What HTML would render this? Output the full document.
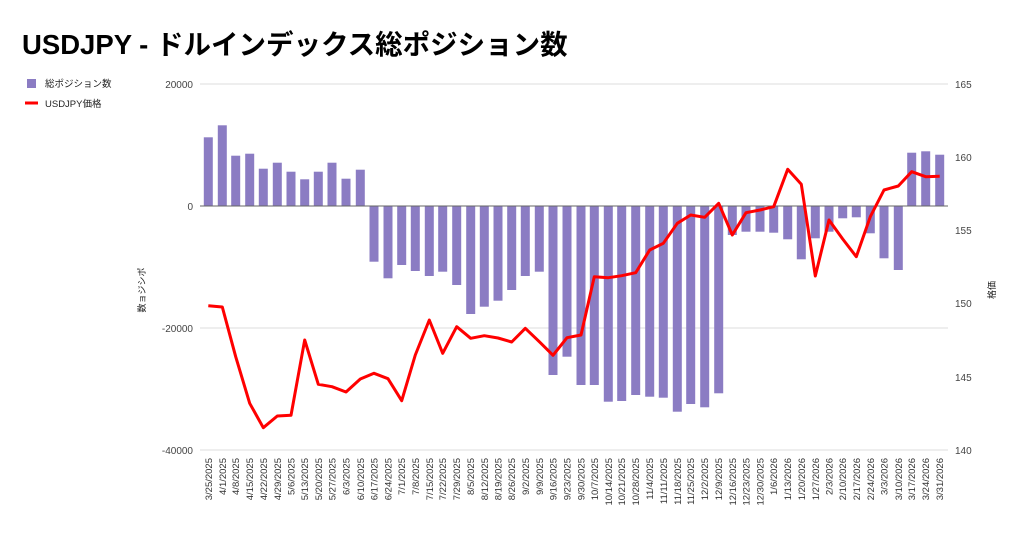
<!DOCTYPE html>
<html><head><meta charset="utf-8"><style>
body{margin:0;background:#fff;width:1024px;height:534px;overflow:hidden}
svg{display:block;font-family:"Liberation Sans","Noto Sans CJK JP",sans-serif}
</style></head><body>
<svg width="1024" height="534" viewBox="0 0 1024 534">
<text x="22" y="54" font-size="27.5" font-weight="bold" fill="#000">USDJPY - ドルインデックス総ポジション数</text>
<rect x="27" y="79" width="9" height="9" fill="#8b7cc3"/>
<text x="45" y="87" font-size="9.5" fill="#222">総ポジション数</text>
<line x1="25" y1="103" x2="38" y2="103" stroke="#f00" stroke-width="3"/>
<text x="45" y="107" font-size="9.5" fill="#222">USDJPY価格</text>
<g stroke="#ddd" stroke-width="1">
<line x1="200" y1="84" x2="948" y2="84"/><line x1="200" y1="328" x2="948" y2="328"/><line x1="200" y1="450" x2="948" y2="450"/>
</g>
<g font-size="10" fill="#444" text-anchor="end">
<text x="193" y="88">20000</text><text x="193" y="210">0</text><text x="193" y="332">-20000</text><text x="193" y="454">-40000</text>
</g>
<g font-size="10" fill="#444" text-anchor="start">
<text x="955" y="88">165</text><text x="955" y="161">160</text><text x="955" y="234">155</text><text x="955" y="307">150</text><text x="955" y="381">145</text><text x="955" y="454">140</text>
</g>
<text transform="translate(145,290) rotate(-90)" font-size="9" fill="#222" text-anchor="middle">数ョジシポ</text>
<text transform="translate(995,290) rotate(-90)" font-size="9" fill="#222" text-anchor="middle">格価</text>
<g fill="#8b7cc3">
<rect x="203.8" y="137.3" width="9" height="68.7"/><rect x="217.8" y="125.3" width="9" height="80.7"/><rect x="231.2" y="155.7" width="9" height="50.3"/><rect x="245.2" y="153.7" width="9" height="52.3"/><rect x="258.8" y="168.7" width="9" height="37.3"/><rect x="272.8" y="162.7" width="9" height="43.3"/><rect x="286.5" y="171.7" width="9" height="34.3"/><rect x="300.2" y="179.3" width="9" height="26.7"/><rect x="313.8" y="171.7" width="9" height="34.3"/><rect x="327.5" y="162.7" width="9" height="43.3"/><rect x="341.5" y="178.7" width="9" height="27.3"/><rect x="355.8" y="169.7" width="9" height="36.3"/>
<rect x="369.5" y="206" width="9" height="55.7"/><rect x="383.5" y="206" width="9" height="72.3"/><rect x="397.2" y="206" width="9" height="59"/><rect x="410.8" y="206" width="9" height="65"/><rect x="424.8" y="206" width="9" height="70"/><rect x="438.2" y="206" width="9" height="65.7"/><rect x="452.2" y="206" width="9" height="79"/><rect x="466.2" y="206" width="9" height="108"/><rect x="479.8" y="206" width="9" height="100.7"/><rect x="493.5" y="206" width="9" height="94.7"/><rect x="507.2" y="206" width="9" height="84"/><rect x="520.8" y="206" width="9" height="70"/><rect x="534.8" y="206" width="9" height="65.7"/><rect x="548.5" y="206" width="9" height="169"/><rect x="562.5" y="206" width="9" height="150.7"/>
<rect x="576.5" y="206" width="9" height="179"/><rect x="589.8" y="206" width="9" height="179"/><rect x="603.8" y="206" width="9" height="195.7"/><rect x="617.2" y="206" width="9" height="195"/><rect x="631.2" y="206" width="9" height="189"/><rect x="645.2" y="206" width="9" height="190.7"/><rect x="658.8" y="206" width="9" height="191.7"/><rect x="672.8" y="206" width="9" height="205.7"/><rect x="686.2" y="206" width="9" height="198"/><rect x="700.2" y="206" width="9" height="201.3"/><rect x="714.2" y="206" width="9" height="187.3"/>
<rect x="727.8" y="206" width="9" height="29"/><rect x="741.5" y="206" width="9" height="25.7"/><rect x="755.5" y="206" width="9" height="25.7"/><rect x="769.2" y="206" width="9" height="26.7"/><rect x="783.2" y="206" width="9" height="33.3"/><rect x="796.8" y="206" width="9" height="53.3"/><rect x="810.8" y="206" width="9" height="32.3"/><rect x="824.5" y="206" width="9" height="25.7"/><rect x="838.2" y="206" width="9" height="12.3"/><rect x="851.8" y="206" width="9" height="11.3"/><rect x="865.8" y="206" width="9" height="27.3"/><rect x="879.5" y="206" width="9" height="52.3"/><rect x="893.8" y="206" width="9" height="64"/>
<rect x="907.2" y="152.7" width="9" height="53.3"/><rect x="921.2" y="151.3" width="9" height="54.7"/><rect x="935.2" y="154.7" width="9" height="51.3"/>
</g>
<line x1="200" y1="206" x2="948" y2="206" stroke="#666" stroke-width="1"/>
<polyline fill="none" stroke="#f00" stroke-width="3" stroke-linejoin="round" points="208.3,305.7 222.3,307 235.7,356.7 249.7,403.3 263.3,427.7 277.3,416 291,415.3 304.7,340 318.3,384.3 332,386.7 346,392 360.3,379 374,373.3 388,378.7 401.7,400.7 415.3,355 429.3,320 442.7,353.3 456.7,326.7 470.7,338.3 484.3,335.7 498,338 511.7,342 525.3,328.3 539.3,341.7 553,355.3 567,337.7 581,335 594.3,276.7 608.3,277.7 621.7,275.7 635.7,272.7 649.7,250 663.3,243.3 677.3,223.3 690.7,215 704.7,217.3 718.7,203.3 732.3,235 746,212.7 760,210 773.7,206.7 787.7,169.3 801.3,184.3 815.3,276 829,220 842.7,239 856.3,256.7 870.3,216.7 884,190 898.3,186 911.7,171.7 925.7,176.7 939.7,176.3"/>
<g font-size="9.5" fill="#333" text-anchor="end">
<text transform="translate(211.8,458) rotate(-90)">3/25/2025</text><text transform="translate(225.8,458) rotate(-90)">4/1/2025</text><text transform="translate(239.2,458) rotate(-90)">4/8/2025</text><text transform="translate(253.2,458) rotate(-90)">4/15/2025</text><text transform="translate(266.8,458) rotate(-90)">4/22/2025</text><text transform="translate(280.8,458) rotate(-90)">4/29/2025</text><text transform="translate(294.5,458) rotate(-90)">5/6/2025</text><text transform="translate(308.2,458) rotate(-90)">5/13/2025</text><text transform="translate(321.8,458) rotate(-90)">5/20/2025</text><text transform="translate(335.5,458) rotate(-90)">5/27/2025</text><text transform="translate(349.5,458) rotate(-90)">6/3/2025</text><text transform="translate(363.8,458) rotate(-90)">6/10/2025</text><text transform="translate(377.5,458) rotate(-90)">6/17/2025</text><text transform="translate(391.5,458) rotate(-90)">6/24/2025</text><text transform="translate(405.2,458) rotate(-90)">7/1/2025</text><text transform="translate(418.8,458) rotate(-90)">7/8/2025</text><text transform="translate(432.8,458) rotate(-90)">7/15/2025</text><text transform="translate(446.2,458) rotate(-90)">7/22/2025</text><text transform="translate(460.2,458) rotate(-90)">7/29/2025</text><text transform="translate(474.2,458) rotate(-90)">8/5/2025</text><text transform="translate(487.8,458) rotate(-90)">8/12/2025</text><text transform="translate(501.5,458) rotate(-90)">8/19/2025</text><text transform="translate(515.2,458) rotate(-90)">8/26/2025</text><text transform="translate(528.8,458) rotate(-90)">9/2/2025</text><text transform="translate(542.8,458) rotate(-90)">9/9/2025</text><text transform="translate(556.5,458) rotate(-90)">9/16/2025</text><text transform="translate(570.5,458) rotate(-90)">9/23/2025</text><text transform="translate(584.5,458) rotate(-90)">9/30/2025</text><text transform="translate(597.8,458) rotate(-90)">10/7/2025</text><text transform="translate(611.8,458) rotate(-90)">10/14/2025</text><text transform="translate(625.2,458) rotate(-90)">10/21/2025</text><text transform="translate(639.2,458) rotate(-90)">10/28/2025</text><text transform="translate(653.2,458) rotate(-90)">11/4/2025</text><text transform="translate(666.8,458) rotate(-90)">11/11/2025</text><text transform="translate(680.8,458) rotate(-90)">11/18/2025</text><text transform="translate(694.2,458) rotate(-90)">11/25/2025</text><text transform="translate(708.2,458) rotate(-90)">12/2/2025</text><text transform="translate(722.2,458) rotate(-90)">12/9/2025</text><text transform="translate(735.8,458) rotate(-90)">12/16/2025</text><text transform="translate(749.5,458) rotate(-90)">12/23/2025</text><text transform="translate(763.5,458) rotate(-90)">12/30/2025</text><text transform="translate(777.2,458) rotate(-90)">1/6/2026</text><text transform="translate(791.2,458) rotate(-90)">1/13/2026</text><text transform="translate(804.8,458) rotate(-90)">1/20/2026</text><text transform="translate(818.8,458) rotate(-90)">1/27/2026</text><text transform="translate(832.5,458) rotate(-90)">2/3/2026</text><text transform="translate(846.2,458) rotate(-90)">2/10/2026</text><text transform="translate(859.8,458) rotate(-90)">2/17/2026</text><text transform="translate(873.8,458) rotate(-90)">2/24/2026</text><text transform="translate(887.5,458) rotate(-90)">3/3/2026</text><text transform="translate(901.8,458) rotate(-90)">3/10/2026</text><text transform="translate(915.2,458) rotate(-90)">3/17/2026</text><text transform="translate(929.2,458) rotate(-90)">3/24/2026</text><text transform="translate(943.2,458) rotate(-90)">3/31/2026</text>
</g>
</svg>
</body></html>
